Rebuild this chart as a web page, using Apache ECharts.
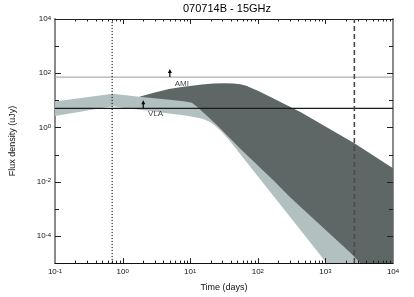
<!DOCTYPE html>
<html><head><meta charset="utf-8">
<script src="https://cdn.jsdelivr.net/npm/echarts@6/dist/echarts.min.js"></script>
<style>html,body{margin:0;padding:0;background:#fff}#c{width:414px;height:297px}</style>
</head><body><div id="c"></div>
<script>
// ---- data (time in days, flux density in uJy) ----
const titleText = '070714B - 15GHz';
const xName = 'Time (days)';
const yName = 'Flux density (uJy)';

const lightUpper = [[0.1, 9.0], [0.709, 17.6], [1.76, 13.7], [5, 12], [10.6, 10], [30, 5], [100, 0.3], [1000, 0.001], [4600, 1e-5]];
const lightLower = [[0.1, 2.64], [0.709, 6.13], [0.99, 5.3], [1.95, 4.4], [4.85, 3.26], [9, 2.7], [14.8, 2.14], [19, 1.65], [23, 1.2], [30, 0.65], [38.1, 0.334], [80, 0.032], [309, 4.6e-4], [1042, 1e-5]];
const darkUpper = [[1.76, 13.7], [3, 19.5], [4.85, 26.2], [7.5, 31], [10.6, 34.5], [15, 38.5], [22.2, 41.5], [32, 42.5], [43.5, 42], [55, 39], [67.6, 34.5], [82, 28], [100, 22.7], [157, 12.9], [433, 3.63], [2680, 0.26], [10000, 0.0315]];
const darkLower = [[1.76, 13.7], [5, 10.5], [8, 9.2], [10.6, 8.2], [13, 5.5], [17.5, 2.75], [25, 1.2], [38.1, 0.42], [57.1, 0.15], [168, 0.0115], [309, 0.0025], [2342, 2.4e-5], [3281, 1e-5], [10000, 1e-5]];

const amiLevel = 72;
const vlaLevel = 5.1;
const amiArrow = [[5.0, 72], [5.0, 122]];
const vlaArrow = [[2.02, 5.1], [2.02, 8.45]];
const instrumentLabels = [{ name: 'AMI', value: [7.5, 40] }, { name: 'VLA', value: [3.08, 3.26] }];
const dottedTime = 0.70;
const dashedTime = 2680;

const X_MIN = 0.1, X_MAX = 10000, Y_MIN = 1e-5, Y_MAX = 1e4;
const xMajorTicks = [1, 10, 100, 1000];
const xMinorTicks = [0.2,0.3,0.4,0.5,0.6,0.7,0.8,0.9, 2,3,4,5,6,7,8,9, 20,30,40,50,60,70,80,90, 200,300,400,500,600,700,800,900, 2000,3000,4000,5000,6000,7000,8000,9000];
const yMajorTicks = [1e-4, 1e-2, 1, 1e2];
const yMinorTicks = [1e-3, 1e-1, 10, 1e3];

// ---- chart ----
const FONT = 'Liberation Sans';
const chart = echarts.init(document.getElementById('c'));

function supLabel(v, onlyEven) {
  const e = Math.round(Math.log10(v));
  if (onlyEven && Math.abs(e) % 2 === 1) return '';
  return '{b|10}{e|' + e + '}';
}
const richLbl = {
  b: { fontSize: 8, lineHeight: 8, verticalAlign: 'bottom', fontFamily: FONT, color: '#111' },
  e: { fontSize: 6, lineHeight: 6, verticalAlign: 'top', padding: [0, 0, 4, 0], fontFamily: FONT, color: '#111' }
};

function bandSeries(upper, lower, color) {
  const poly = upper.concat(lower.slice().reverse());
  return {
    type: 'custom', coordinateSystem: 'cartesian2d', xAxisIndex: 0, yAxisIndex: 0,
    data: poly, encode: { x: 0, y: 1 }, clip: true, silent: true,
    renderItem: function (params, api) {
      if (params.dataIndex !== 0) return null;
      const pts = poly.map(p => api.coord(p));
      return { type: 'polygon', shape: { points: pts }, style: { fill: color } };
    }
  };
}

const tickSeries = {
  type: 'custom', coordinateSystem: 'cartesian2d', xAxisIndex: 0, yAxisIndex: 0,
  data: [[1, 1]], clip: false, silent: true, z: 10,
  renderItem: function (params, api) {
    const ch = [];
    const add = (x1, y1, x2, y2) => ch.push({ type: 'line', shape: { x1, y1, x2, y2 }, style: { stroke: '#222', lineWidth: 1 } });
    const xt = (v, len) => {
      const b = api.coord([v, Y_MIN]), t = api.coord([v, Y_MAX]);
      const x = Math.round(b[0]) + 0.5;
      add(x, b[1], x, b[1] - len); add(x, t[1], x, t[1] + len);
    };
    const yt = (v, len) => {
      const l = api.coord([X_MIN, v]), r = api.coord([X_MAX, v]);
      const y = Math.round(l[1]) + 0.5;
      add(l[0], y, l[0] + len, y); add(r[0], y, r[0] - len, y);
    };
    xMajorTicks.forEach(v => xt(v, 5));
    xMinorTicks.forEach(v => xt(v, 2.5));
    yMajorTicks.forEach(v => yt(v, 6));
    yMinorTicks.forEach(v => yt(v, 4));
    return { type: 'group', children: ch };
  }
};

function lineSeries(data, color, width, type, z) {
  return { type: 'line', data: data, symbol: 'none', silent: true, z: z || 5,
    lineStyle: { color: color, width: width, type: type || 'solid' }, animation: false };
}
function arrowSeries(pts) {
  return { type: 'line', silent: true, z: 6, showSymbol: true, symbol: 'none',
    data: [pts[0], { value: pts[1], symbol: 'triangle', symbolSize: [4, 4] }],
    lineStyle: { color: '#000', width: 1.2 }, itemStyle: { color: '#000' } };
}

const option = {
  animation: false,
  backgroundColor: '#fff',
  title: { text: titleText, left: 222, top: -2, textAlign: 'center',
    textStyle: { fontSize: 11, fontWeight: 'normal', color: '#000', fontFamily: FONT } },
  grid: { left: 52, right: 21, top: 19, bottom: 33.5, containLabel: false },
  xAxis: [{
    type: 'log', logBase: 10, min: X_MIN, max: X_MAX, interval: 1,
    name: xName, nameLocation: 'middle', nameGap: 16,
    nameTextStyle: { fontSize: 9, color: '#111', fontFamily: FONT },
    axisLine: { show: true, lineStyle: { color: '#111', width: 1 } },
    axisTick: { show: false }, splitLine: { show: false },
    axisLabel: { margin: 5, formatter: v => supLabel(v, false), rich: richLbl }
  }, {
    type: 'log', logBase: 10, min: X_MIN, max: X_MAX, position: 'top',
    axisLine: { show: true, onZero: false, lineStyle: { color: '#222', width: 1 } },
    axisTick: { show: false }, axisLabel: { show: false }, splitLine: { show: false }
  }],
  yAxis: [{
    type: 'log', logBase: 10, min: Y_MIN, max: Y_MAX, interval: 1,
    name: yName, nameLocation: 'middle', nameGap: 38, nameRotate: 90,
    nameTextStyle: { fontSize: 9, color: '#111', fontFamily: FONT },
    axisLine: { show: true, lineStyle: { color: '#8a8a8a', width: 2 } },
    axisTick: { show: false }, splitLine: { show: false },
    axisLabel: { margin: 4, formatter: v => supLabel(v, true), rich: richLbl }
  }, {
    type: 'log', logBase: 10, min: Y_MIN, max: Y_MAX, position: 'right',
    axisLine: { show: true, onZero: false, lineStyle: { color: '#8a8a8a', width: 2 } },
    axisTick: { show: false }, axisLabel: { show: false }, splitLine: { show: false }
  }],
  series: [
    Object.assign(bandSeries(lightUpper, lightLower, '#b3c0c0'), { z: 1 }),
    Object.assign(bandSeries(darkUpper, darkLower, '#5f6666'), { z: 2 }),
    lineSeries([[X_MIN, amiLevel], [X_MAX, amiLevel]], '#9a9a9a', 1),
    lineSeries([[X_MIN, vlaLevel], [X_MAX, vlaLevel]], '#1a1a1a', 1.2),
    lineSeries([[dottedTime, Y_MIN], [dottedTime, Y_MAX]], '#000', 1, [1.2, 1.8]),
    lineSeries([[dashedTime, Y_MIN], [dashedTime, Y_MAX]], '#4a4a4a', 1.6, [5, 3]),
    arrowSeries(amiArrow),
    arrowSeries(vlaArrow),
    { type: 'scatter', data: instrumentLabels, symbolSize: 0, silent: true, z: 7,
      label: { show: true, position: 'inside', formatter: '{b}', fontSize: 8, color: '#111', fontFamily: FONT } },
    tickSeries
  ]
};
chart.setOption(option);
</script>
</body></html>
